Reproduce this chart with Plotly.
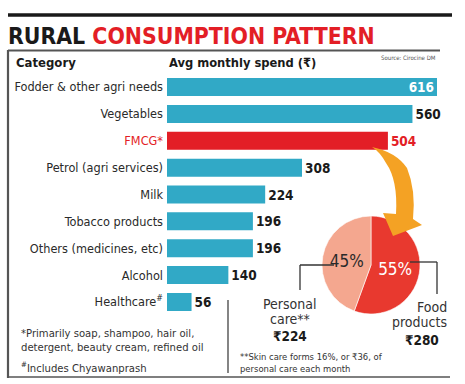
import plotly.graph_objects as go

# ---------------- data ----------------
categories = ["Fodder & other agri needs", "Vegetables", "FMCG*", "Petrol (agri services)",
              "Milk", "Tobacco products", "Others (medicines, etc)", "Alcohol", "Healthcare#"]
spend = [616, 560, 504, 308, 224, 196, 196, 140, 56]
tick_labels = ["Fodder & other agri needs", "Vegetables",
               "<span style='color:#e31e26'>FMCG*</span>", "Petrol (agri services)",
               "Milk", "Tobacco products", "Others (medicines, etc)", "Alcohol",
               "Healthcare<sup>#</sup>"]
fmcg_split_labels = ["Food products", "Personal care"]
fmcg_split_values = [280, 224]
fmcg_split_pct = ["55%", "45%"]

W, H = 465, 384
def px(x): return x / W
def py(y): return 1 - y / H

TEAL = "#31a9c6"
RED = "#e31e26"
FONT = "Liberation Sans Narrow, DejaVu Sans Condensed, Roboto Condensed, Arial Narrow, Roboto, sans-serif"

bar_colors = [RED if c == "FMCG*" else TEAL for c in categories]
text_pos = ["inside"] + ["outside"] * (len(spend) - 1)
text_cols = ["white"] + ["#1a1a1a"] * (len(spend) - 1)
text_cols[2] = RED

fig = go.Figure()
fig.add_trace(go.Bar(
    y=categories, x=spend, orientation="h",
    marker=dict(color=bar_colors, line=dict(width=0)),
    text=[f"<b>{v}</b>" for v in spend], textposition=text_pos,
    insidetextanchor="end",
    textfont=dict(color=text_cols, size=13.5, family=FONT),
    constraintext="none", cliponaxis=False, hoverinfo="skip",
    xaxis="x", yaxis="y",
))

scale = 270 / 616  # px per unit
fig.add_trace(go.Pie(
    labels=fmcg_split_labels, values=fmcg_split_values, text=fmcg_split_pct,
    textinfo="text", sort=False, direction="clockwise", rotation=0,
    marker=dict(colors=["#e8392f", "#f4a78f"], line=dict(color="white", width=0.6)),
    textfont=dict(color=["white", "#2a2a2a"], size=17, family=FONT),
    insidetextorientation="horizontal", showlegend=False, hoverinfo="skip",
    domain=dict(x=[px(322), px(420)], y=[py(314), py(216)]),
))

shapes = []
def line(x0, y0, x1, y1, color="#333", width=1.3):
    shapes.append(dict(type="line", xref="paper", yref="paper",
                       x0=px(x0), y0=py(y0), x1=px(x1), y1=py(y1),
                       line=dict(color=color, width=width)))

# frame lines
line(8, 15, 452, 15, "#1a1a1a", 3.5)
line(8, 50.5, 440, 50.5, "#555", 2)
line(8, 50, 8, 378, "#555", 2.2)
line(8, 377, 450, 377, "#555", 1.6)
line(228, 300, 228, 373, "#333", 1.2)
# pie connectors
line(300, 265, 334, 265)
line(300, 265, 300, 290)
line(410, 262, 437, 262)
line(437, 262, 437, 294)

# orange curved arrow
def P(x, y): return f"{px(x)},{py(y)}"
path = ("M " + P(372, 147) +
        " Q " + P(396, 152) + " " + P(407, 168) +
        " Q " + P(416, 190) + " " + P(413, 219) +
        " L " + P(422, 225) +
        " L " + P(393, 236) +
        " L " + P(383, 213) +
        " L " + P(396, 214) +
        " Q " + P(398, 180) + " " + P(386, 163) +
        " Q " + P(380, 152) + " " + P(372, 147) + " Z")
shapes.append(dict(type="path", xref="paper", yref="paper", path=path,
                   fillcolor="#f4a224", line=dict(width=0)))

ann = []
def text(x, y, s, size=11, color="#222", xanchor="left", bold=False, family=FONT):
    if bold:
        s = f"<b>{s}</b>"
    ann.append(dict(x=px(x), y=py(y), xref="paper", yref="paper", text=s,
                    showarrow=False, xanchor=xanchor, yanchor="middle",
                    font=dict(size=size, color=color, family=family)))

text(6, 36, "RURAL <span style='color:#e31e26'>CONSUMPTION PATTERN</span>", 22.8, "#1a1a1a", bold=True)
text(14, 62, "Category", 13, "#1a1a1a", bold=True)
text(167, 62, "Avg monthly spend (₹)", 12.8, "#1a1a1a", bold=True)
text(438, 57, "Source: Cirocine DM", 6, "#555", xanchor="right")

text(290, 304, "Personal", 14, "#333", xanchor="center")
text(290, 319, "care**", 14, "#333", xanchor="center")
text(290, 336, "₹224", 13.5, "#1a1a1a", xanchor="center", bold=True)
text(449, 307, "Food", 14, "#333", xanchor="right")
text(449, 322, "products", 14, "#333", xanchor="right")
text(441, 340, "₹280", 13.5, "#1a1a1a", xanchor="right", bold=True)

text(19, 333, "*Primarily soap, shampoo, hair oil,", 11.2, "#333")
text(19, 347, "detergent, beauty cream, refined oil", 11.2, "#333")
text(19, 367, "<sup>#</sup>Includes Chyawanprash", 11.2, "#333")
text(238, 356, "**Skin care forms 16%, or ₹36, of", 9.4, "#333")
text(238, 368, "personal care each month", 9.4, "#333")

y_top, y_bot = 73.6, 315.4
fig.update_layout(
    width=W, height=H, margin=dict(l=0, r=0, t=0, b=0),
    paper_bgcolor="white", plot_bgcolor="rgba(0,0,0,0)",
    font=dict(family=FONT),
    bargap=0.33, showlegend=False,
    xaxis=dict(domain=[px(167), 1], range=[0, (W - 167) / scale], visible=False, fixedrange=True),
    yaxis=dict(domain=[py(y_bot), py(y_top)], range=[8.5, -0.5], tickmode="array",
               tickvals=categories, ticktext=tick_labels, ticks="", showgrid=False,
               showline=False, zeroline=False, ticklabelstandoff=3,
               tickfont=dict(size=12.6, color="#2a2a2a", family=FONT)),
    shapes=shapes, annotations=ann,
)

fig.write_html("out.html", config={"displayModeBar": False},
               post_script="document.body.style.margin='0';document.body.style.padding='0';")
